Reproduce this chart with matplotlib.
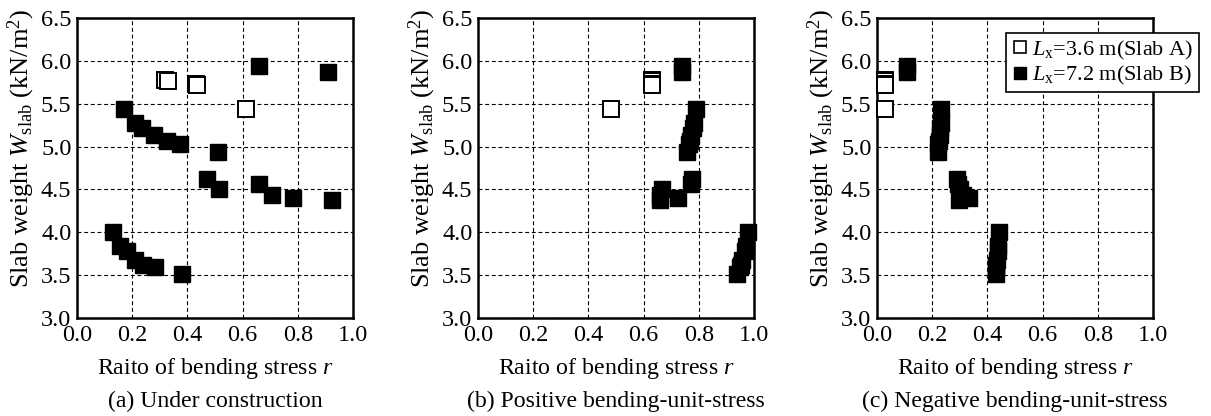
"""
Slab weight against ratio of bending stress, three load cases side by side.
"""
import matplotlib
matplotlib.use('Agg')
import matplotlib.pyplot as plt
from matplotlib.lines import Line2D

# ---- data ------------------------------------------------------------------
# Slab weight W_slab (kN/m2), shared by all three panels
w_open = [5.78, 5.77, 5.73, 5.72, 5.44]
w_filled = [5.935, 5.865, 5.44, 5.28, 5.22, 5.14, 5.07, 5.03, 4.94,
            4.62, 4.50, 4.56, 4.43, 4.40, 4.38,
            4.00, 3.84, 3.78, 3.68, 3.62, 3.59, 3.51]

# Ratio of bending stress r for each panel
r_open_a = [0.320, 0.330, 0.430, 0.436, 0.612]
r_open_b = [0.629, 0.629, 0.629, 0.630, 0.481]
r_open_c = [0.030, 0.030, 0.030, 0.030, 0.030]

r_filled_a = [0.660, 0.909, 0.170, 0.210, 0.235, 0.280, 0.325, 0.372, 0.511,
              0.470, 0.515, 0.660, 0.707, 0.782, 0.925,
              0.130, 0.157, 0.180, 0.210, 0.240, 0.282, 0.380]
r_filled_b = [0.739, 0.739, 0.789, 0.783, 0.778, 0.772, 0.768, 0.764, 0.759,
              0.777, 0.668, 0.771, 0.660, 0.726, 0.658,
              0.980, 0.972, 0.966, 0.958, 0.952, 0.948, 0.938]
r_filled_c = [0.110, 0.110, 0.231, 0.231, 0.230, 0.229, 0.224, 0.220, 0.222,
              0.291, 0.300, 0.295, 0.310, 0.333, 0.297,
              0.442, 0.440, 0.438, 0.435, 0.432, 0.431, 0.430]

captions = ['(a) Under construction',
            '(b) Positive bending-unit-stress',
            '(c) Negative bending-unit-stress']
legend_labels = [r'$L_{\mathrm{x}}$=3.6 m(Slab A)', r'$L_{\mathrm{x}}$=7.2 m(Slab B)']

x_ticks = [0.0, 0.2, 0.4, 0.6, 0.8, 1.0]
y_ticks = [3.0, 3.5, 4.0, 4.5, 5.0, 5.5, 6.0, 6.5]

# ---- style -------------------------------------------------------------------
plt.rcParams['font.family'] = ['Liberation Serif', 'DejaVu Serif']
plt.rcParams['mathtext.fontset'] = 'custom'
plt.rcParams['mathtext.rm'] = 'Liberation Serif'
plt.rcParams['mathtext.it'] = 'Liberation Serif:italic'
plt.rcParams['font.size'] = 16

W, H = 1211, 416
fig = plt.figure(figsize=(W / 100, H / 100), dpi=100)

panel_left_px = [77, 478, 877]
ax_w_px, ax_h_px, ax_bottom_px = 276, 300, 98


def draw_panel(ax, r_open, r_filled):
    """Scatter the two slab series on one panel and format its axes."""
    ax.plot(r_open, w_open, ls='none', marker='s', ms=11.5, mfc='white',
            mec='black', mew=1.4, clip_on=False, zorder=3)
    ax.plot(r_filled, w_filled, ls='none', marker='s', ms=11.5, mfc='black',
            mec='black', mew=1.0, clip_on=False, zorder=4)
    ax.set_xlim(0, 1)
    ax.set_ylim(3.0, 6.5)
    ax.set_xticks(x_ticks)
    ax.set_yticks(y_ticks)
    ax.set_xticklabels([f'{v:.1f}' for v in x_ticks])
    ax.set_yticklabels([f'{v:.1f}' for v in y_ticks])
    ax.tick_params(length=0, labelsize=17.5)
    ax.tick_params(axis='x', pad=5)
    ax.tick_params(axis='y', pad=4)
    ax.grid(True, color='black', lw=0.8, ls=(0, (3.5, 2.5)))
    ax.set_axisbelow(True)
    for sp in ax.spines.values():
        sp.set_linewidth(1.8)
    ax.set_xlabel(r'Raito of bending stress $r$', fontsize=17.2, labelpad=7)
    ax.set_ylabel(r'Slab weight $W_{\mathrm{slab}}$ (kN/m$^2$)', fontsize=19,
                  va='center')
    # label is a bit above the middle of the axis in the reference
    ax.yaxis.set_label_coords(-0.2, 0.567)


opens = [r_open_a, r_open_b, r_open_c]
filleds = [r_filled_a, r_filled_b, r_filled_c]
axes = []
for left, ro, rf, cap in zip(panel_left_px, opens, filleds, captions):
    ax = fig.add_axes([left / W, ax_bottom_px / H, ax_w_px / W, ax_h_px / H])
    draw_panel(ax, ro, rf)
    # caption under each panel
    fig.text((left + ax_w_px / 2) / W, 15 / H, cap, ha='center', va='center',
             fontsize=17.1)
    axes.append(ax)

# legend sits in the last panel and runs past its right edge
handles = [
    Line2D([], [], ls='none', marker='s', ms=9, mfc='white', mec='black', mew=1.2),
    Line2D([], [], ls='none', marker='s', ms=9, mfc='black', mec='black', mew=1.0),
]
leg = axes[2].legend(handles, legend_labels, loc='upper right',
                     bbox_to_anchor=(1.167, 0.95), borderaxespad=0,
                     fontsize=16, fancybox=False, framealpha=1,
                     edgecolor='black', handletextpad=0.15, handlelength=0.8,
                     borderpad=0.25, labelspacing=0.1)
leg.get_frame().set_linewidth(1.2)

fig.savefig('out.png', dpi=100)
